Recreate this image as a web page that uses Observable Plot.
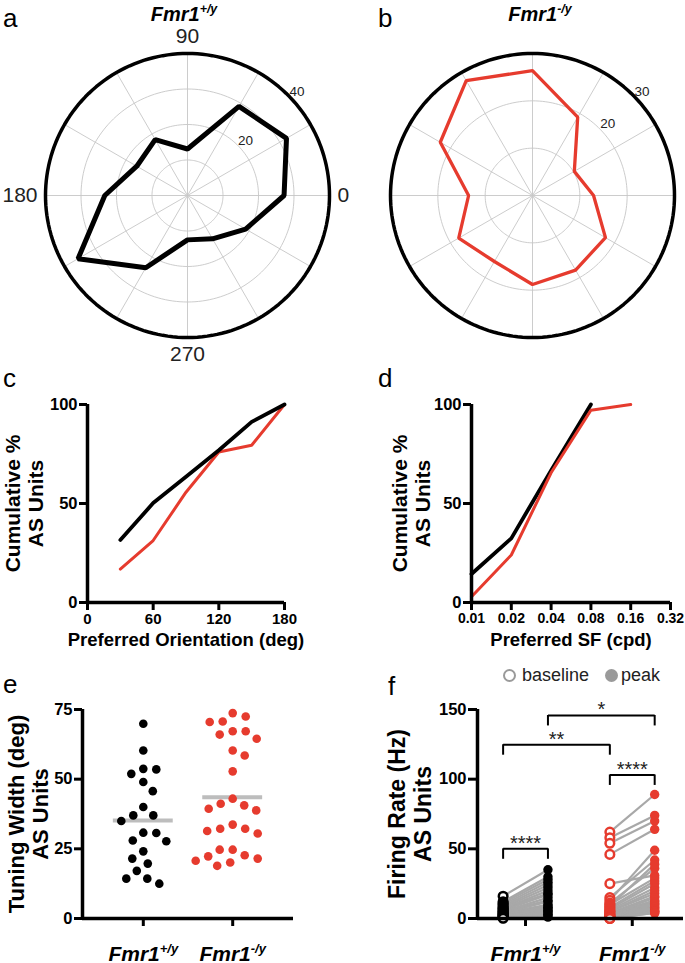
<!DOCTYPE html>
<html><head><meta charset="utf-8">
<script src="https://cdn.jsdelivr.net/npm/d3@7"></script>
<script src="https://cdn.jsdelivr.net/npm/@observablehq/plot@0.6"></script>
<style>
html,body{margin:0;padding:0;background:#fff;}
body{width:685px;height:963px;position:relative;overflow:hidden;font-family:"Liberation Sans",Arial,Helvetica,sans-serif;color:#000;}
.panel{position:absolute;}
.panel svg{overflow:visible;}
.letter{position:absolute;font-size:26px;line-height:1;}
.title{position:absolute;font-size:20px;font-weight:bold;font-style:italic;transform:translateX(-50%);white-space:nowrap;line-height:1;}
.title sup{font-size:0.62em;vertical-align:baseline;position:relative;top:-0.62em;}
.legend{position:absolute;font-size:18px;line-height:18px;color:#222;white-space:nowrap;}
.legend .sym{position:absolute;width:9px;height:9px;border-radius:50%;}
g[aria-label$="-axis tick"], g[aria-label$="-axis tick"] path, g[aria-label$="-axis tick"] line{stroke-width:3px !important;}
</style>
</head>
<body>
<script>
const fontFamily = '"Liberation Sans", Arial, Helvetica, sans-serif';
const red = "#e63b2e";

// ---------- data ----------
const genotypeLabels = ["Fmr1+/y", "Fmr1-/y"];
const panelLetters = ["a", "b", "c", "d", "e", "f"];

// a, b: polar histograms of preferred direction (counts per 30° bin)
const polarAngles = [0, 30, 60, 90, 120, 150, 180, 210, 240, 270, 300, 330];
const wtPolarCounts = [27.2, 32.2, 29, 13.1, 18.2, 16.5, 23.3, 35.6, 23.5, 12.5, 14.1, 18.9];
const koPolarCounts = [12.9, 10.2, 19.1, 26.4, 28, 22.5, 13.5, 18, 16.1, 18.8, 18.2, 17.8];
const wtPolarRings = [10, 20, 30, 40];
const koPolarRings = [10, 20, 30];
const wtRingLabels = [20, 40];
const koRingLabels = [20, 30];
const polarAngleLabels = [0, 90, 180, 270];

// c: cumulative preferred orientation
const orientX = [30, 60, 90, 120, 150, 180];
const wtOrientCum = [31.6, 50.2, 63.5, 76.9, 91.2, 100];
const koOrientCum = [16.9, 31.3, 55.7, 76, 79.4, 100];
const orientTicks = [0, 60, 120, 180];

// d: cumulative preferred SF
const wtSfX = [0.01, 0.02, 0.04, 0.08];
const wtSfCum = [14.4, 32.4, 66.7, 100];
const koSfX = [0.01, 0.02, 0.04, 0.08, 0.16];
const koSfCum = [2.9, 24, 65.5, 97.1, 100];
const sfTicks = [0.01, 0.02, 0.04, 0.08, 0.16, 0.32];
const cumTicks = [0, 50, 100];

// e: tuning width
const wtTuning = [69.9, 60.3, 53.7, 53.5, 51.9, 49, 45.7, 40, 37, 37, 35, 30.7, 30.8, 27.7, 28, 24.1, 21.5, 19.7, 17.1, 14.3, 14.3, 12.5];
const koTuning = [73.7, 70.7, 70.5, 72.5, 67.2, 67.2, 64.5, 66, 60.3, 58.5, 52.8, 41.2, 39.4, 38.8, 40.6, 43, 33.7, 32.2, 30.5, 31.4, 32.2, 22.3, 24.7, 24.7, 22.7, 20.7, 18.9, 20.1, 21.5];
const tuningTicks = [0, 25, 50, 75];

// f: firing rate, baseline vs peak (paired by index)
const wtBaseline = [16, 12, 11, 10, 9, 8, 7, 7, 6, 5, 5, 4, 4, 3, 3, 2, 2, 2, 1, 1, 0.5, 0.2];
const wtPeak = [35, 30, 28, 26, 24, 22, 20, 18, 17, 15, 13, 12, 10, 9, 8, 7, 6, 5, 4, 3, 2, 1];
const koBaseline = [62, 58, 54, 46, 25, 15, 13, 11, 10, 9, 8, 7, 6, 5, 5, 4, 3, 3, 2, 2, 1.5, 1, 1, 0.5, 0.5, 0.3, 0.2, 0.1, 0];
const koPeak = [89, 74, 70, 64, 31, 42, 49, 36, 29, 39, 27, 25, 22, 20, 18, 16, 15, 13, 12, 11, 10, 9, 8, 7, 6, 5, 5, 4, 4];
const rateTicks = [0, 50, 100, 150];
const rateComparisons = [
  {g1: 1, c1: "baseline", g2: 1, c2: "peak", y: 50, label: "****"},
  {g1: 2, c1: "baseline", g2: 2, c2: "peak", y: 103, label: "****"},
  {g1: 1, c1: "baseline", g2: 2, c2: "baseline", y: 124.7, label: "**"},
  {g1: 1, c1: "peak", g2: 2, c2: "peak", y: 145.7, label: "*"}
];
const legendItems = ["baseline", "peak"];

// ---------- helpers ----------
function thickTicks(svg) {
  svg.querySelectorAll("g[aria-label]").forEach(g => {
    const l = g.getAttribute("aria-label");
    if (/axis tick$/.test(l)) {
      g.setAttribute("stroke-width", "3");
      g.querySelectorAll("path,line").forEach(p => p.setAttribute("stroke-width", "3"));
    }
  });
}
function place(el, left, top) {
  thickTicks(el);
  const d = document.createElement("div");
  d.className = "panel";
  d.style.left = left + "px";
  d.style.top = top + "px";
  d.appendChild(el);
  document.body.appendChild(d);
  return d;
}
function supify(svg) {
  svg.querySelectorAll("text").forEach(t => {
    const m = /^(Fmr1)([+-]\/y)$/.exec(t.textContent);
    if (!m) return;
    t.textContent = "";
    const a = document.createElementNS("http://www.w3.org/2000/svg", "tspan");
    a.textContent = m[1];
    const b = document.createElementNS("http://www.w3.org/2000/svg", "tspan");
    b.textContent = m[2];
    b.setAttribute("font-size", "0.62em");
    b.setAttribute("dy", "-0.55em");
    t.appendChild(a); t.appendChild(b);
  });
}
function titleHTML(label) {
  const m = /^(Fmr1)(.*)$/.exec(label);
  return `${m[1]}<sup>${m[2]}</sup>`;
}
const baseStyle = {background: "transparent", overflow: "visible", fontFamily, color: "#000"};
const boldStyle = {...baseStyle, fontWeight: "bold"};
function yTitleMark(text, dx, fontSize) {
  return Plot.text([text], {frameAnchor: "left", textAnchor: "middle", lineAnchor: "middle", dx, rotate: -90, fontSize, lineHeight: 1.1});
}

// ---------- polar panels ----------
function polarChart(counts, rings, ringLabels, angleLabels, color, lineWidth) {
  const R = d3.max(rings);
  const u = R / 142; // data units per pixel
  const rad = a => a * Math.PI / 180;
  const circle = r => d3.range(0, 361, 2).map(a => ({x: r * Math.cos(rad(a)), y: r * Math.sin(rad(a))}));
  const profile = polarAngles.map((a, i) => ({x: counts[i] * Math.cos(rad(a)), y: counts[i] * Math.sin(rad(a))}));
  const spokes = d3.range(0, 360, 30);
  const la = rad(43.5);
  const marks = [];
  rings.filter(r => r < R).forEach(r => marks.push(Plot.line(circle(r), {x: "x", y: "y", stroke: "#c6c6c6", strokeWidth: 0.9})));
  marks.push(Plot.link(spokes, {x1: 0, y1: 0, x2: a => R * Math.cos(rad(a)), y2: a => R * Math.sin(rad(a)), stroke: "#c6c6c6", strokeWidth: 0.9}));
  marks.push(Plot.line(profile, {x: "x", y: "y", curve: "linear-closed", stroke: color, strokeWidth: lineWidth, strokeLinejoin: "miter"}));
  marks.push(Plot.line(circle(R), {x: "x", y: "y", stroke: "#000", strokeWidth: 3.5}));
  marks.push(Plot.text(ringLabels, {x: r => (r + 9 * u) * Math.cos(la), y: r => (r + 9 * u) * Math.sin(la), text: d => String(d), fontSize: 13.5, fill: "#222"}));
  const hl = 150 * u, vl = 159 * u;
  marks.push(Plot.text(angleLabels.filter(a => a === 0), {x: hl, y: 0, text: d => String(d), textAnchor: "start", fontSize: 21, fill: "#222"}));
  marks.push(Plot.text(angleLabels.filter(a => a === 180), {x: -hl, y: 0, text: d => String(d), textAnchor: "end", fontSize: 21, fill: "#222"}));
  marks.push(Plot.text(angleLabels.filter(a => a === 90 || a === 270), {x: 0, y: a => vl * Math.sin(rad(a)), text: d => String(d), fontSize: 21, fill: "#222"}));
  return Plot.plot({
    width: 340, height: 345, marginLeft: 45, marginRight: 11, marginTop: 28, marginBottom: 33,
    x: {domain: [-R, R], axis: null}, y: {domain: [-R, R], axis: null},
    style: baseStyle,
    marks
  });
}
place(polarChart(wtPolarCounts, wtPolarRings, wtRingLabels, polarAngleLabels, "#000", 5), 0, 25);
place(polarChart(koPolarCounts, koPolarRings, koRingLabels, [], red, 3.3), 345, 25);

// ---------- cumulative panels ----------
function cumChart({xType, xDomain, xTicks, xTickSize, series, yTitle, xTitle, width, marginLeft, marginRight, yTitleDx}) {
  const xScale = xType === "log" ? {type: "log", base: 2, domain: xDomain} : {type: "linear", domain: xDomain};
  return Plot.plot({
    width, height: 265, marginLeft, marginRight, marginTop: 14, marginBottom: 53,
    x: xScale,
    y: {domain: [0, 100]},
    style: boldStyle,
    marks: [
      Plot.axisX(xTicks, {tickSize: 8, strokeWidth: 3, tickFormat: () => "", label: null}),
      Plot.text(xTicks, {x: d => d, frameAnchor: "bottom", dy: 11, lineAnchor: "top", textAnchor: "middle", text: d => String(d), fontSize: xTickSize}),
      Plot.axisY(cumTicks, {tickSize: 8, tickPadding: 2, fontSize: 16.5, strokeWidth: 3, label: null}),
      ...series.map(s => Plot.line(s.x.map((v, i) => ({x: v, y: s.y[i]})), {x: "x", y: "y", stroke: s.color, strokeWidth: s.width})),
      Plot.ruleY([0], {strokeWidth: 3.5}),
      Plot.ruleX([xDomain[0]], {strokeWidth: 3.5}),
      yTitleMark(yTitle, yTitleDx, 21),
      Plot.text([xTitle], {frameAnchor: "bottom", textAnchor: "middle", lineAnchor: "middle", dy: 38, fontSize: 18.5})
    ]
  });
}
place(cumChart({
  xType: "linear", xDomain: [0, 180], xTicks: orientTicks, xTickSize: 15,
  series: [{x: orientX, y: koOrientCum, color: red, width: 3}, {x: orientX, y: wtOrientCum, color: "#000", width: 3.8}],
  yTitle: "Cumulative %\nAS Units", xTitle: "Preferred Orientation (deg)",
  width: 340, marginLeft: 87, marginRight: 56, yTitleDx: -63.5
}), 0, 390);
place(cumChart({
  xType: "log", xDomain: [0.01, 0.32], xTicks: sfTicks, xTickSize: 14,
  series: [{x: wtSfX, y: wtSfCum, color: "#000", width: 3.8}, {x: koSfX, y: koSfCum, color: red, width: 3}],
  yTitle: "Cumulative %\nAS Units", xTitle: "Preferred SF (cpd)",
  width: 345, marginLeft: 131, marginRight: 15, yTitleDx: -60.5
}), 340, 390);

// ---------- e: tuning width scatter ----------
(function () {
  const width = 340, height = 268, mL = 82, mR = 47, mT = 14, mB = 45;
  const xDomain = [0.32, 2.68], yDomain = [0, 75];
  const pxPerX = (width - mL - mR) / (xDomain[1] - xDomain[0]);
  const yPx = d3.scaleLinear(yDomain, [height - mT - mB, 0]);
  const r = 4.3, minD = 13;
  function swarm(values) {
    const order = d3.range(values.length).sort((a, b) => d3.descending(values[a], values[b]));
    const placed = [], offs = new Array(values.length);
    let flip = 1;
    for (const i of order) {
      const y = yPx(values[i]);
      let found = null;
      for (let k = 0; found === null && k < 400; k++) {
        const cands = k === 0 ? [0] : [flip * k * 0.5, -flip * k * 0.5];
        for (const c of cands) {
          if (placed.every(p => Math.hypot(p.x - c, p.y - y) >= minD)) { found = c; break; }
        }
      }
      if (found !== 0) flip = -flip;
      placed.push({x: found, y});
      offs[i] = found / pxPerX;
    }
    return offs;
  }
  const groups = [wtTuning, koTuning];
  const colors = ["#000", red];
  const pts = groups.flatMap((vals, gi) => {
    const offs = swarm(vals);
    return vals.map((v, i) => ({x: gi + 1 + offs[i], y: v, color: colors[gi]}));
  });
  const means = groups.map((vals, gi) => ({g: gi + 1, mean: d3.mean(vals)}));
  const svg = Plot.plot({
    width, height, marginLeft: mL, marginRight: mR, marginTop: mT, marginBottom: mB,
    x: {domain: xDomain}, y: {domain: yDomain},
    style: boldStyle,
    marks: [
      Plot.axisX([1, 2], {tickSize: 8, strokeWidth: 3, tickFormat: () => "", label: null}),
      Plot.axisY(tuningTicks, {tickSize: 8, tickPadding: 2, fontSize: 16.5, strokeWidth: 3, label: null}),
      Plot.ruleY([0], {strokeWidth: 3.5}),
      Plot.ruleX([xDomain[0]], {strokeWidth: 3.5}),
      Plot.ruleY(means, {y: "mean", x1: d => d.g - 0.335, x2: d => d.g + 0.335, stroke: "#bdbdbd", strokeWidth: 4}),
      Plot.dot(pts, {x: "x", y: "y", r, fill: "color", stroke: null}),
      Plot.text([1, 2], {x: d => d, frameAnchor: "bottom", dy: 42, lineAnchor: "bottom", textAnchor: "middle", text: d => genotypeLabels[d - 1], fontSize: 21, fontStyle: "italic"}),
      yTitleMark("Tuning Width (deg)\nAS Units", -54.5, 22)
    ]
  });
  supify(svg);
  place(svg, 0, 695);
})();

// ---------- f: firing rate baseline vs peak ----------
(function () {
  const xDomain = [0.55, 2.48];
  const condOffset = {baseline: -0.21, peak: 0.21};
  const colors = ["#000", red];
  const pairs = [[wtBaseline, wtPeak], [koBaseline, koPeak]].flatMap(([b, p], gi) =>
    b.map((v, i) => ({g: gi + 1, base: v, peak: p[i], color: colors[gi]})));
  const legs = rateComparisons.flatMap(c => [
    {x: c.g1 + condOffset[c.c1], y1: c.y, y2: c.y - 7.5},
    {x: c.g2 + condOffset[c.c2], y1: c.y, y2: c.y - 7.5}
  ]);
  const svg = Plot.plot({
    width: 340, height: 268, marginLeft: 132, marginRight: 2, marginTop: 14, marginBottom: 45,
    x: {domain: xDomain}, y: {domain: [0, 150]},
    style: boldStyle,
    marks: [
      Plot.axisX([1, 2], {tickSize: 8, strokeWidth: 3, tickFormat: () => "", label: null}),
      Plot.axisY(rateTicks, {tickSize: 9, tickPadding: 2, fontSize: 16.5, strokeWidth: 3, label: null}),
      Plot.link(pairs, {x1: d => d.g + condOffset.baseline, y1: "base", x2: d => d.g + condOffset.peak, y2: "peak", stroke: "#a8a8a8", strokeWidth: 2.2}),
      Plot.dot(pairs, {x: d => d.g + condOffset.baseline, y: "base", r: 4.3, stroke: "color", strokeWidth: 2.5, fill: "white"}),
      Plot.dot(pairs, {x: d => d.g + condOffset.peak, y: "peak", r: 4.7, fill: "color", stroke: null}),
      Plot.ruleY([0], {strokeWidth: 3.5}),
      Plot.ruleX([xDomain[0]], {strokeWidth: 3.5}),
      Plot.link(rateComparisons, {x1: d => d.g1 + condOffset[d.c1], x2: d => d.g2 + condOffset[d.c2], y1: "y", y2: "y", stroke: "#000", strokeWidth: 2}),
      Plot.ruleX(legs, {x: "x", y1: "y1", y2: "y2", stroke: "#000", strokeWidth: 2}),
      Plot.text(rateComparisons, {x: d => (d.g1 + condOffset[d.c1] + d.g2 + condOffset[d.c2]) / 2, y: "y", dy: 1, lineAnchor: "bottom", text: "label", fontSize: 20, fontWeight: "normal", fill: "#222"}),
      Plot.text([1, 2], {x: d => d, frameAnchor: "bottom", dy: 42, lineAnchor: "bottom", textAnchor: "middle", text: d => genotypeLabels[d - 1], fontSize: 21, fontStyle: "italic"}),
      yTitleMark("Firing Rate (Hz)\nAS Units", -67.5, 23)
    ]
  });
  supify(svg);
  place(svg, 345, 695);
})();

// ---------- legend for f ----------
(function () {
  const lg = document.createElement("div");
  lg.className = "legend";
  lg.style.left = "503px"; lg.style.top = "666px";
  const xs = [0, 102];
  legendItems.forEach((name, i) => {
    const s = document.createElement("span");
    s.className = "sym";
    s.style.left = (xs[i]) + "px"; s.style.top = "3px";
    if (i === 0) { s.style.border = "2.2px solid #9a9a9a"; s.style.background = "#fff"; }
    else { s.style.background = "#9a9a9a"; s.style.width = "13px"; s.style.height = "13px"; }
    lg.appendChild(s);
    const t = document.createElement("span");
    t.textContent = name;
    t.style.position = "absolute";
    t.style.left = (xs[i] + (i === 0 ? 19 : 16)) + "px";
    t.style.top = "0px";
    lg.appendChild(t);
  });
  document.body.appendChild(lg);
})();

// ---------- panel letters and titles ----------
const letterPos = [[3, 5], [378, 5], [3, 365], [378, 365], [3, 671], [388, 673]];
panelLetters.forEach((l, i) => {
  const d = document.createElement("div");
  d.className = "letter";
  d.textContent = l;
  d.style.left = letterPos[i][0] + "px"; d.style.top = letterPos[i][1] + "px";
  document.body.appendChild(d);
});
const titlePos = [[184, 4], [540, 4]];
genotypeLabels.forEach((g, i) => {
  const d = document.createElement("div");
  d.className = "title";
  d.innerHTML = titleHTML(g);
  d.style.left = titlePos[i][0] + "px"; d.style.top = titlePos[i][1] + "px";
  document.body.appendChild(d);
});
</script>
</body></html>
